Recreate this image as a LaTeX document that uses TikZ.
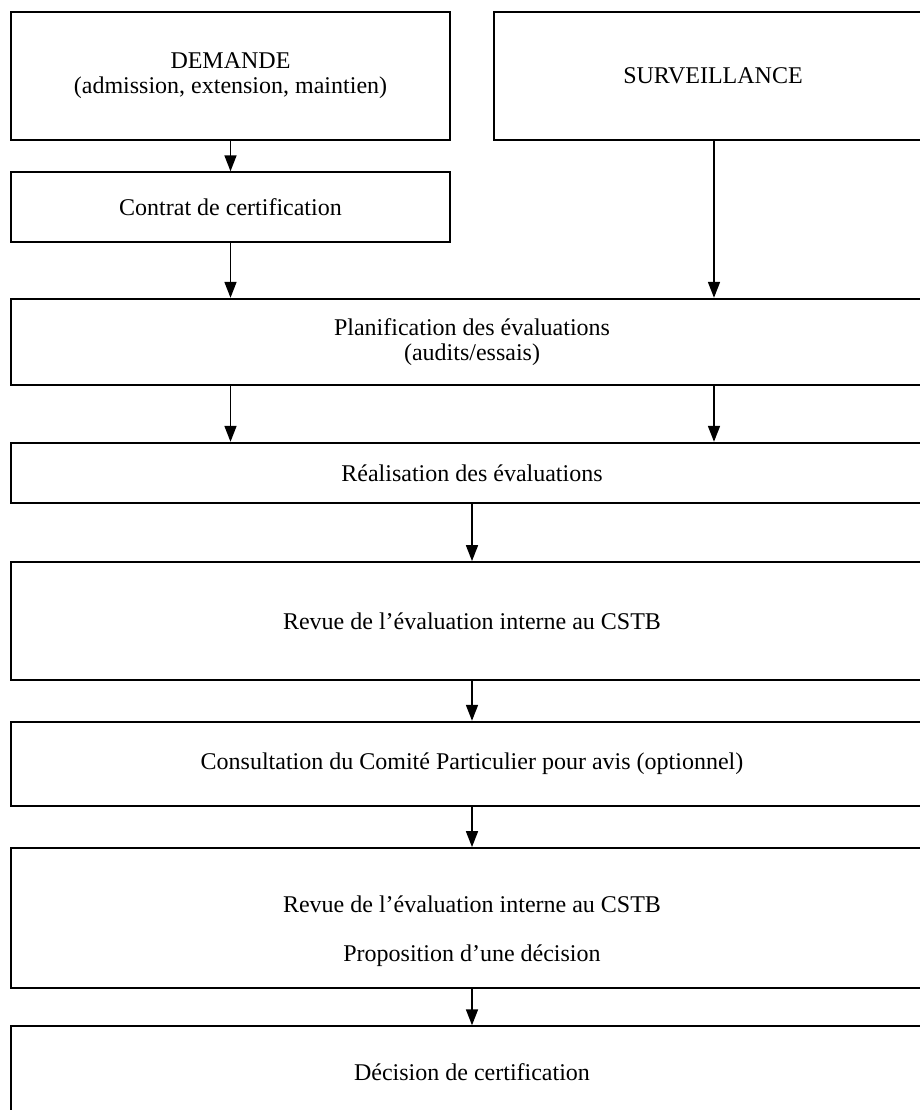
\documentclass[tikz,border=0pt]{standalone}
\usepackage{fontspec}
\setmainfont{Liberation Serif}
\usepackage{tikz}
\usetikzlibrary{arrows.meta,positioning}

\begin{document}
\begin{tikzpicture}[x=0.5pt,y=-0.5pt,
    box/.style={draw,inner sep=0pt,align=center,font=\fontsize{12}{12.5}\selectfont,line width=1.2pt},
    thin/.style={line width=0.7pt},
    half/.style={box,minimum width=219.5pt},
    wide/.style={box,minimum width=461pt},
    flow/.style={line width=0.85pt,-{Triangle[length=8pt,width=6pt]}}]
    \useasboundingbox (0,0) rectangle (920,1110);
    \node[half,minimum height=64pt] (dem) at (230.5,76) {DEMANDE\\(admission, extension, maintien)};
    \node[half,minimum height=64pt,minimum width=219pt] (surv) at (713,76) {SURVEILLANCE};
    \node[half,thin,minimum height=35pt] (contrat) at (230.5,207) {Contrat de certification};
    \node[wide,minimum height=43pt] (plan) at (472,342) {Planification des \'evaluations\\(audits/essais)};
    \node[wide,minimum height=30pt] (real) at (472,473) {R\'ealisation des \'evaluations};
    \node[wide,line width=0.9pt,minimum height=59pt] (revue) at (472,621) {Revue de l’\'evaluation interne au CSTB};
    \node[wide,minimum height=42pt] (consult) at (472,764) {Consultation du Comit\'e Particulier pour avis (optionnel)};
    \node[wide,line width=0.9pt,minimum height=70pt] (prop) at (472,918)
        {\rule{0pt}{22pt}Revue de l’\'evaluation interne au CSTB\\[12pt]Proposition d’une d\'ecision};
    \node[wide,thin,minimum height=46pt] (decis) at (472,1072) {D\'ecision de certification};
    % connectors
    \draw[flow] (dem) -- (contrat);
    \draw[flow] (contrat) -- (contrat |- plan.north);
    \draw[flow] (surv.south -| 714,0) -- (714,0 |- plan.north);
    \draw[flow] (contrat |- plan.south) -- (contrat |- real.north);
    \draw[flow] (plan.south -| 714,0) -- (714,0 |- real.north);
    \draw[flow] (real) -- (revue);
    \draw[flow] (revue) -- (consult);
    \draw[flow] (consult) -- (prop);
    \draw[flow] (prop) -- (decis);
\end{tikzpicture}
\end{document}
